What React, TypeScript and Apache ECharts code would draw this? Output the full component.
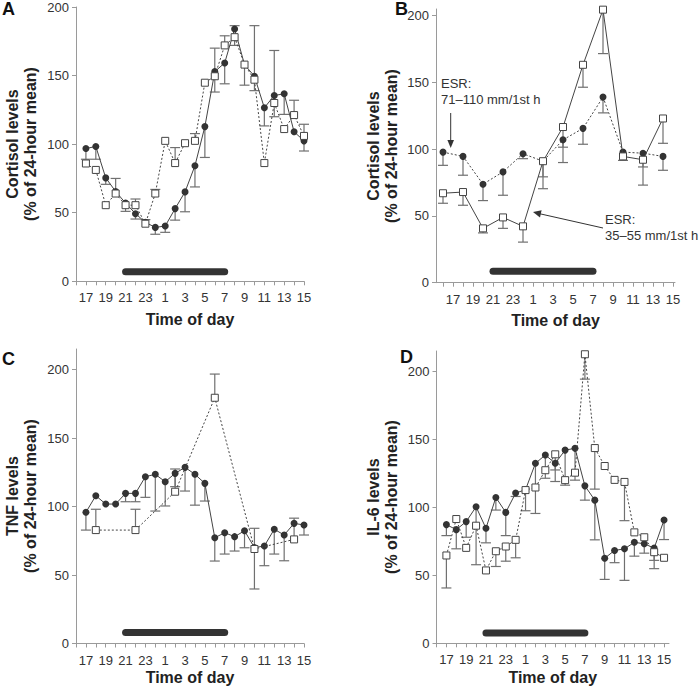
import React, { useEffect, useRef } from "react";
import * as echarts from "echarts";

// hours (after midnight written as 24+)
const hoursHourly = [17, 18, 19, 20, 21, 22, 23, 24, 25, 26, 27, 28, 29, 30, 31, 32, 33, 34, 35, 36, 37, 38, 39];
const hoursB = [16, 18, 20, 22, 24, 26, 28, 30, 32, 34, 36, 38];
const hoursC4 = [18, 22, 26, 30, 34, 38];
const tickHours = [16, 17, 18, 19, 20, 21, 22, 23, 24, 25, 26, 27, 28, 29, 30, 31, 32, 33, 34, 35, 36, 37, 38, 39];
const labelHours = [17, 19, 21, 23, 25, 27, 29, 31, 33, 35, 37, 39];
const yTicks = [0, 50, 100, 150, 200];
const nightSpan = [21, 31];
const nightLevel = [7, 8.5, 8, 7.5];

// Panel A – cortisol
const aFilled = [96.8, 98.3, 75.4, 65.5, 57, 49.3, 43, 39.3, 40.3, 53, 65.2, 84.3, 112.8, 152.9, 159.2, 184, 158, 149.5, 126.5, 135.5, 136.7, 109, 102.4];
const aFilledErr = [89, 89, 70.7, 75, null, 45.4, null, 34.3, 35.7, 44.6, 50.7, 68.8, 90.3, 170, 144, 186.4, null, 186.4, 113.3, 168.3, 121.7, null, 95];
const aSquare = [85.9, 81.2, 55.5, 64, 55.5, 55.5, 42, 64, 102.4, 86.2, 100.7, 102.4, 144.8, 149.5, 172, 178, 158, 147, 86.2, 130, 111, 121.2, 106];
const aSquareErr = [null, null, null, null, 51, 60, 45, 67, null, 97.5, null, 107.7, null, 138, 179, 172, 143, 139, null, 120, null, 132, 114.5];

// Panel B – cortisol by ESR group
const bFilled = [97.8, 94.6, 73.8, 83, 96.6, 91, 107, 115.6, 139, 97.8, 97, 94.6];
const bFilledErr = [87.9, 80.5, 61.5, 65.5, 92.9, 79.3, 90, 103.7, 127.2, null, 86.7, 84.2];
const bSquare = [67, 67.9, 40.7, 48.9, 42.2, 91, 116.6, 163.2, 204.5, 94.6, 92.1, 123];
const bSquareErr = [59.5, 58, 37.3, 40.7, 30.4, 70.4, 101.5, 146.4, 171.6, 91.6, 73.1, 104.4];

// Panel C – TNF
const cFilled = [95.8, 107.9, 101.8, 101.8, 109.6, 109.6, 121.8, 123.5, 118.1, 124.2, 128.6, 123.5, 116.9, 77.2, 80.9, 78, 82.3, 70, 71.2, 83.4, 79.2, 87.7, 86.5];
const cFilledErr = [82.8, null, null, null, 103.5, 103.5, 106.7, 96.7, 100.4, 114.5, 111.3, 101, 104, 60.2, 65.3, 67.5, 69.9, 39.8, 56.8, 65.3, 60.4, null, 79.2];
const cSquare = [82.8, 82.8, 110.8, 179.4, 69, 76];
const cSquareErr = [98, 98, 127.4, 196.7, 84.1, 91.5];

// Panel D – IL-6
const dFilled = [87.3, 83.6, 89.5, 100.4, 84.6, 107.3, 96.3, 110.5, 113, 132.4, 138.5, 132.4, 142.1, 143.4, 115.8, 105.3, 62.6, 68.3, 69.5, 74.3, 73.2, 70, 90.7];
const dFilledErr = [79.2, 69.5, 78, 57.8, 73.9, 98, 79.2, 108, null, 95.5, 121.4, 119, 116.3, 120, 105.3, 76.1, 47, 59.3, 46.3, 64.1, 66.3, 61, 76.3];
const dSquare = [64.6, 91.4, 70.2, 86.5, 53.6, 67.7, 71.2, 76.1, 112.7, 114.6, 127.3, 139, 120, 125.5, 212.6, 143.6, 130.4, 120.2, 118.7, 81.6, 78, 67, 62.9];
const dSquareErr = [40.7, null, null, null, null, 56.5, 60.4, 62.9, 97.5, null, null, 127.5, null, null, 194.3, 113.4, null, null, 90.2, null, null, 54.9, null];

const FONT = "'Liberation Sans', Arial, Helvetica, sans-serif";
const DASH = [2, 2];

function errSeries(idx: number, xs: number[], vals: number[], errs: (number | null)[]) {
  const data: number[][] = [];
  xs.forEach((x, i) => {
    if (errs[i] !== null && errs[i] !== undefined) data.push([x, vals[i], errs[i] as number]);
  });
  return {
    type: "custom",
    xAxisIndex: idx,
    yAxisIndex: idx,
    z: 1,
    silent: true,
    clip: false,
    encode: { x: 0, y: [1, 2] },
    data,
    renderItem: (_params: any, api: any) => {
      const x = api.value(0);
      const v = api.value(1);
      const e = api.value(2);
      const p1 = api.coord([x, v]);
      const p2 = api.coord([x, e]);
      const st = { stroke: "#707070", lineWidth: 1.2 };
      return {
        type: "group",
        children: [
          { type: "line", shape: { x1: p1[0], y1: p1[1], x2: p2[0], y2: p2[1] }, style: st },
          { type: "line", shape: { x1: p2[0] - 5, y1: p2[1], x2: p2[0] + 5, y2: p2[1] }, style: st },
        ],
      };
    },
  };
}

function lineSeries(idx: number, xs: number[], vals: number[], square: boolean, dashed: boolean) {
  return {
    type: "line",
    xAxisIndex: idx,
    yAxisIndex: idx,
    z: square ? 4 : 3,
    data: xs.map((x, i) => [x, vals[i]]),
    symbol: square ? "rect" : "circle",
    symbolSize: 7,
    itemStyle: square
      ? { color: "#ffffff", borderColor: "#444", borderWidth: 1 }
      : { color: "#333333", borderColor: "#333", borderWidth: 0 },
    lineStyle: { color: "#444", width: 1, type: dashed ? DASH : "solid" },
    silent: true,
  };
}

function nightSeries(idx: number) {
  return {
    type: "line",
    xAxisIndex: idx,
    yAxisIndex: idx,
    z: 2,
    symbol: "none",
    silent: true,
    data: nightSpan.map((h) => [h, nightLevel[idx]]),
    lineStyle: { color: "#333", width: 7, cap: "round" },
  };
}

function xAxis(idx: number, min: number, max: number, nameGap: number) {
  return {
    type: "value",
    gridIndex: idx,
    min,
    max,
    axisLine: { show: true, onZero: false, lineStyle: { color: "#9a9a9a", width: 1 } },
    axisTick: { show: true, length: 4, lineStyle: { color: "#9a9a9a" }, customValues: tickHours },
    axisLabel: {
      customValues: labelHours,
      formatter: (v: number) => String(Math.round(v) % 24),
      margin: 10,
      fontSize: 13,
      color: "#333",
      fontFamily: FONT,
    },
    splitLine: { show: false },
    name: "Time of day",
    nameLocation: "middle",
    nameGap,
    nameTextStyle: { fontWeight: "bold", fontSize: 16, color: "#222", fontFamily: FONT },
  };
}

function yAxis(idx: number, max: number) {
  return {
    type: "value",
    gridIndex: idx,
    min: 0,
    max,
    axisLine: { show: true, lineStyle: { color: "#9a9a9a", width: 1 } },
    axisTick: { show: true, length: 4, lineStyle: { color: "#9a9a9a" }, customValues: yTicks },
    axisLabel: { customValues: yTicks, margin: 7, fontSize: 13, color: "#333", fontFamily: FONT },
    splitLine: { show: false },
  };
}

function txt(x: number, y: number, text: string, opts: any = {}) {
  return {
    type: "text",
    x,
    y,
    rotation: opts.rotation || 0,
    silent: true,
    style: {
      text,
      fontSize: opts.fontSize || 13,
      fontWeight: opts.fontWeight || "normal",
      fontFamily: FONT,
      fill: opts.fill || "#222",
      textAlign: opts.align || "left",
      textVerticalAlign: "middle",
      align: opts.align || "left",
      verticalAlign: "middle",
    },
  };
}

export default function App() {
  const ref = useRef<HTMLDivElement>(null);
  useEffect(() => {
    if (!ref.current) return;
    const chart = echarts.init(ref.current, undefined, { renderer: "svg" });
    const grids = [
      { left: 76, top: 7, width: 228, height: 274.3 },
      { left: 436, top: 9, width: 239, height: 273.7 },
      { left: 76, top: 349, width: 228, height: 294.5 },
      { left: 436.5, top: 351, width: 232.5, height: 292.3 },
    ].map((g) => ({ ...g, containLabel: false, outerBoundsMode: "none" }));

    const rot = Math.PI / 2;
    const graphic = [
      txt(2, 9, "A", { fontSize: 18, fontWeight: "bold", fill: "#111" }),
      txt(395, 9, "B", { fontSize: 18, fontWeight: "bold", fill: "#111" }),
      txt(2, 359, "C", { fontSize: 18, fontWeight: "bold", fill: "#111" }),
      txt(400, 357, "D", { fontSize: 18, fontWeight: "bold", fill: "#111" }),
      txt(12, 144, "Cortisol levels", { fontSize: 16, fontWeight: "bold", align: "center", rotation: rot }),
      txt(30, 144, "(% of 24-hour mean)", { fontSize: 16, fontWeight: "bold", align: "center", rotation: rot }),
      txt(373, 146, "Cortisol levels", { fontSize: 16, fontWeight: "bold", align: "center", rotation: rot }),
      txt(391, 146, "(% of 24-hour mean)", { fontSize: 16, fontWeight: "bold", align: "center", rotation: rot }),
      txt(12, 496, "TNF levels", { fontSize: 16, fontWeight: "bold", align: "center", rotation: rot }),
      txt(30, 496, "(% of 24-hour mean)", { fontSize: 16, fontWeight: "bold", align: "center", rotation: rot }),
      txt(373, 497, "IL-6 levels", { fontSize: 16, fontWeight: "bold", align: "center", rotation: rot }),
      txt(391, 497, "(% of 24-hour mean)", { fontSize: 16, fontWeight: "bold", align: "center", rotation: rot }),
      txt(441, 83, "ESR:", { fill: "#333" }),
      txt(441, 99, "71\u2013110 mm/1st h", { fill: "#333" }),
      txt(605, 219, "ESR:", { fill: "#333" }),
      txt(605, 235, "35\u201355 mm/1st h", { fill: "#333" }),
      {
        type: "line",
        silent: true,
        shape: { x1: 450.7, y1: 113, x2: 450.7, y2: 141 },
        style: { stroke: "#333", lineWidth: 1 },
      },
      {
        type: "polygon",
        silent: true,
        shape: { points: [[450.7, 148], [447.4, 140], [454, 140]] },
        style: { fill: "#333" },
      },
      {
        type: "line",
        silent: true,
        shape: { x1: 603, y1: 228, x2: 540, y2: 213.8 },
        style: { stroke: "#333", lineWidth: 1 },
      },
      {
        type: "polygon",
        silent: true,
        shape: { points: [[533, 212], [541.6, 210.2], [540.0, 217.4]] },
        style: { fill: "#333" },
      },
    ];

    const option: any = {
      animation: false,
      grid: grids,
      xAxis: [xAxis(0, 16, 39, 30), xAxis(1, 15.3, 39.2, 30), xAxis(2, 16, 39, 26), xAxis(3, 16, 39.5, 26)],
      yAxis: [yAxis(0, 200), yAxis(1, 205), yAxis(2, 215), yAxis(3, 215)],
      series: [
        nightSeries(0),
        errSeries(0, hoursHourly, aFilled, aFilledErr),
        errSeries(0, hoursHourly, aSquare, aSquareErr),
        lineSeries(0, hoursHourly, aFilled, false, false),
        lineSeries(0, hoursHourly, aSquare, true, true),

        nightSeries(1),
        errSeries(1, hoursB, bFilled, bFilledErr),
        errSeries(1, hoursB, bSquare, bSquareErr),
        lineSeries(1, hoursB, bFilled, false, true),
        lineSeries(1, hoursB, bSquare, true, false),

        nightSeries(2),
        errSeries(2, hoursHourly, cFilled, cFilledErr),
        errSeries(2, hoursC4, cSquare, cSquareErr),
        lineSeries(2, hoursHourly, cFilled, false, false),
        lineSeries(2, hoursC4, cSquare, true, true),

        nightSeries(3),
        errSeries(3, hoursHourly, dFilled, dFilledErr),
        errSeries(3, hoursHourly, dSquare, dSquareErr),
        lineSeries(3, hoursHourly, dFilled, false, false),
        lineSeries(3, hoursHourly, dSquare, true, true),
      ],
      graphic,
    };
    chart.setOption(option);
    return () => chart.dispose();
  }, []);
  return (
    <div
      ref={ref}
      style={{ position: "absolute", left: 0, top: 0, width: 700, height: 687, background: "#fff" }}
    />
  );
}
